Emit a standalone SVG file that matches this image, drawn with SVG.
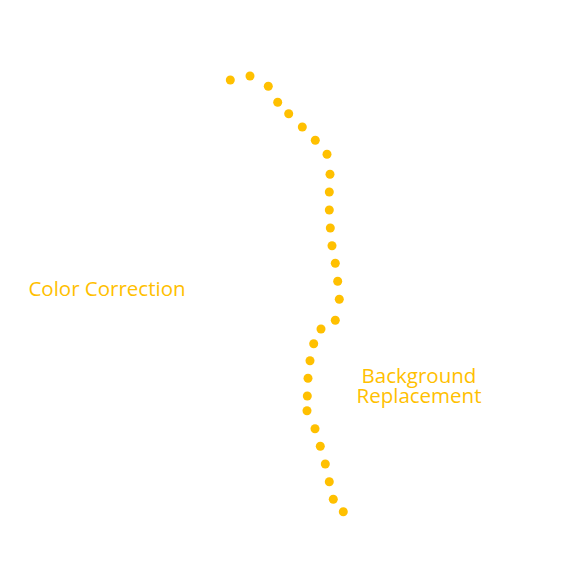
<svg xmlns="http://www.w3.org/2000/svg" width="575" height="575" viewBox="0 0 575 575">
<style>
.d{fill:#FFC000}
.t{fill:#FFC000;font-family:"Open Sans","Noto Sans",sans-serif;font-size:20.5px;text-anchor:middle}
</style>
<rect width="575" height="575" fill="#fff"/>
<g id="connectors">
<circle class="d" cx="230.3" cy="80" r="4.5"/>
<circle class="d" cx="250" cy="76" r="4.5"/>
<circle class="d" cx="268.3" cy="86.3" r="4.5"/>
<circle class="d" cx="277.7" cy="102.3" r="4.5"/>
<circle class="d" cx="288.7" cy="113.7" r="4.5"/>
<circle class="d" cx="302.3" cy="127" r="4.5"/>
<circle class="d" cx="315.3" cy="140.3" r="4.5"/>
<circle class="d" cx="327" cy="154.3" r="4.5"/>
<circle class="d" cx="330" cy="174.3" r="4.5"/>
<circle class="d" cx="329.3" cy="192" r="4.5"/>
<circle class="d" cx="329.3" cy="210" r="4.5"/>
<circle class="d" cx="330.3" cy="228" r="4.5"/>
<circle class="d" cx="332" cy="245.7" r="4.5"/>
<circle class="d" cx="335.3" cy="263.3" r="4.5"/>
<circle class="d" cx="337.7" cy="281.3" r="4.5"/>
<circle class="d" cx="339.3" cy="299.3" r="4.5"/>
<circle class="d" cx="335.3" cy="320.3" r="4.5"/>
<circle class="d" cx="321" cy="329" r="4.5"/>
<circle class="d" cx="313.7" cy="343.7" r="4.5"/>
<circle class="d" cx="310" cy="360.7" r="4.5"/>
<circle class="d" cx="308" cy="378.3" r="4.5"/>
<circle class="d" cx="307.3" cy="396" r="4.5"/>
<circle class="d" cx="307" cy="410.7" r="4.5"/>
<circle class="d" cx="315" cy="428.7" r="4.5"/>
<circle class="d" cx="320.3" cy="446.3" r="4.5"/>
<circle class="d" cx="325.3" cy="464" r="4.5"/>
<circle class="d" cx="329.3" cy="481.7" r="4.5"/>
<circle class="d" cx="333.3" cy="499.3" r="4.5"/>
<circle class="d" cx="343.3" cy="511.7" r="4.5"/>
</g>
<g id="color-correction">
<text class="t" x="107" y="296">Color Correction</text>
</g>
<g id="background-replacement">
<text class="t" x="419" y="383">Background</text>
<text class="t" x="419" y="402.5">Replacement</text>
</g>
</svg>
